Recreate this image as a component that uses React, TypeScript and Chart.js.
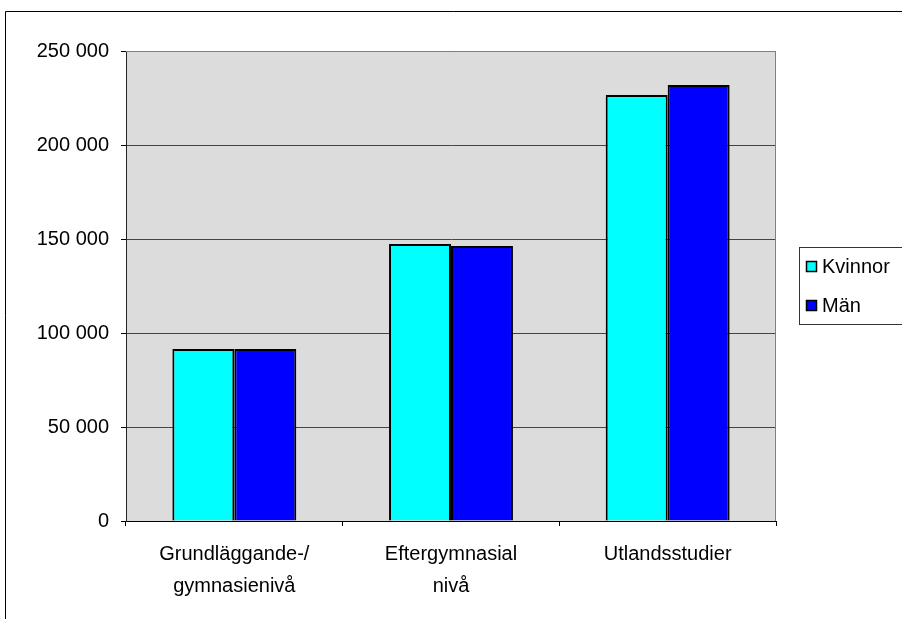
import React, { useEffect, useRef } from "react";
import { Chart, registerables } from "chart.js";

Chart.register(...registerables);

const categories: string[][] = [
  ["Grundläggande-/", "gymnasienivå"],
  ["Eftergymnasial", "nivå"],
  ["Utlandsstudier"],
];
const seriesNames = ["Kvinnor", "Män"];
const kvinnor = [91500, 147300, 226600];
const man = [91500, 146300, 231900];
const seriesColors = ["#00FFFF", "#0000FF"];
const yMin = 0;
const yMax = 250000;
const yStep = 50000;

const FONT = "'Liberation Sans', Arial, sans-serif";

function fmt(v: number): string {
  return String(v).replace(/\B(?=(\d{3})+(?!\d))/g, " ");
}

const framePlugin = {
  id: "framePlugin",
  beforeDraw(chart: any) {
    const { ctx, chartArea } = chart;
    ctx.save();
    ctx.fillStyle = "#ffffff";
    ctx.fillRect(0, 0, chart.width, chart.height);
    ctx.strokeStyle = "#000";
    ctx.lineWidth = 1;
    ctx.beginPath();
    ctx.moveTo(5.5, chart.height);
    ctx.lineTo(5.5, 11.5);
    ctx.lineTo(chart.width, 11.5);
    ctx.stroke();
    ctx.fillStyle = "#DCDCDC";
    ctx.fillRect(chartArea.left, chartArea.top, chartArea.right - chartArea.left, chartArea.bottom - chartArea.top);
    ctx.restore();
  },
  beforeDatasetsDraw(chart: any) {
    const { ctx, chartArea } = chart;
    ctx.save();
    ctx.strokeStyle = "#808080";
    ctx.lineWidth = 1;
    ctx.beginPath();
    ctx.moveTo(chartArea.left, chartArea.top + 0.5);
    ctx.lineTo(chartArea.right - 0.5, chartArea.top + 0.5);
    ctx.lineTo(chartArea.right - 0.5, chartArea.bottom);
    ctx.stroke();
    ctx.restore();
  },
  afterDraw(chart: any) {
    const { ctx } = chart;
    ctx.save();
    const bx = 799.5, by = 247.5, bw = 120, bh = 77;
    ctx.strokeStyle = "#333";
    ctx.lineWidth = 1;
    ctx.strokeRect(bx, by, bw, bh);
    ctx.font = `20px ${FONT}`;
    ctx.textBaseline = "middle";
    chart.data.datasets.forEach((ds: any, i: number) => {
      const cy = 266 + i * 39;
      ctx.fillStyle = ds.backgroundColor;
      ctx.fillRect(806, cy - 5, 10, 10);
      ctx.strokeStyle = "#000";
      ctx.lineWidth = 1.5;
      ctx.strokeRect(806.5, cy - 4.5, 10, 10);
      ctx.fillStyle = "#000";
      ctx.fillText(ds.label, 822, cy + 1);
    });
    ctx.restore();
  },
};

export default function App() {
  const ref = useRef<HTMLCanvasElement | null>(null);
  useEffect(() => {
    if (!ref.current) return;
    const chart = new Chart(ref.current, {
      type: "bar",
      data: {
        labels: categories,
        datasets: [
          { label: seriesNames[0], data: kvinnor, backgroundColor: seriesColors[0], borderColor: "#000", borderWidth: 2 },
          { label: seriesNames[1], data: man, backgroundColor: seriesColors[1], borderColor: "#000", borderWidth: 2 },
        ],
      },
      options: {
        animation: false,
        responsive: false,
        devicePixelRatio: 1,
        layout: { padding: { left: 0, top: 51, right: 126, bottom: 0 } },
        datasets: { bar: { categoryPercentage: 0.572, barPercentage: 1 } },
        plugins: { legend: { display: false }, tooltip: { enabled: false }, title: { display: false } },
        scales: {
          x: {
            type: "category",
            offset: true,
            grid: { offset: true, drawOnChartArea: false, tickLength: 5, tickColor: "#000" },
            border: { display: true, color: "#000", width: 1 },
            ticks: { color: "#000", font: { family: FONT, size: 20, lineHeight: 1.6 }, padding: 12, maxRotation: 0, autoSkip: false },
            afterFit: (s: any) => { s.height = 98; },
          },
          y: {
            min: yMin,
            max: yMax,
            grid: { color: "#444", tickLength: 5, tickColor: "#000" },
            border: { display: true, color: "#222", width: 1 },
            ticks: { stepSize: yStep, color: "#000", font: { family: FONT, size: 20 }, padding: 12, callback: (v: any) => fmt(Number(v)) },
            afterFit: (s: any) => { s.width = 126; },
          },
        },
      },
      plugins: [framePlugin],
    });
    return () => chart.destroy();
  }, []);
  return (
    <div style={{ position: "absolute", left: 0, top: 0, width: 902, height: 619 }}>
      <canvas ref={ref} width={902} height={619} />
    </div>
  );
}
